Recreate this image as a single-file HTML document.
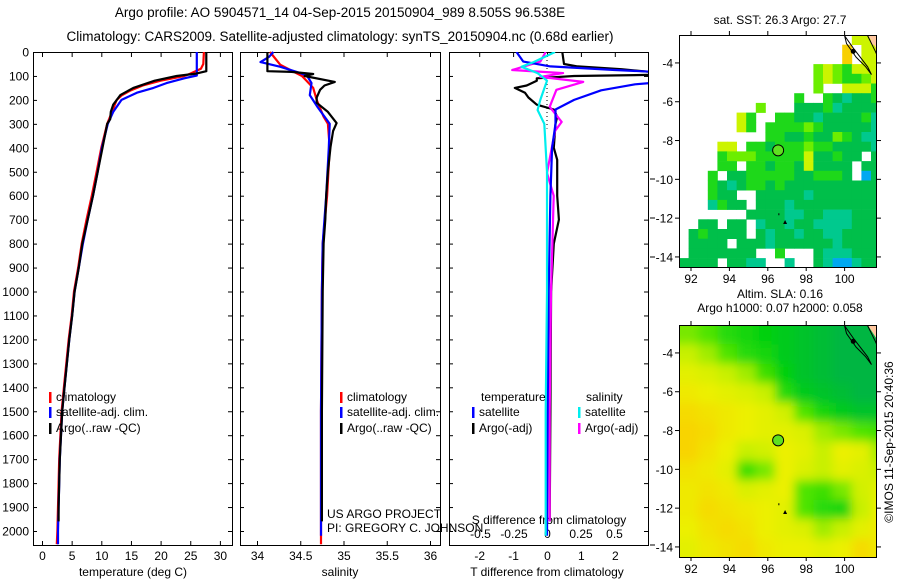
<!DOCTYPE html>
<html><head><meta charset="utf-8"><style>
body{margin:0;background:#fff}
svg{display:block;font-family:"Liberation Sans",sans-serif}
</style></head><body>
<svg id="s" width="900" height="580" viewBox="0 0 900 580" xmlns="http://www.w3.org/2000/svg">
<text x="340" y="17" font-size="13.5" text-anchor="middle">Argo profile: AO 5904571_14 04-Sep-2015 20150904_989 8.505S 96.538E</text>
<text x="340" y="41" font-size="13.5" text-anchor="middle">Climatology: CARS2009. Satellite-adjusted climatology: synTS_20150904.nc (0.68d earlier)</text>
<g id="g"></g>
</svg>
<script>
// ---------- profile data (depth m, value) ----------
const depthTicks=[0,100,200,300,400,500,600,700,800,900,1000,1100,1200,1300,1400,1500,1600,1700,1800,1900,2000];
const tTicks=[0,5,10,15,20,25,30];
const sTicks=[34,34.5,35,35.5,36];
const sTickLabels=["34","34.5","35","35.5","36"];
const dtTicks=[-2,-1,0,1,2];
const dsTicks=[-0.5,-0.25,0,0.25,0.5];
const dsTickLabels=["-0.5","-0.25","0","0.25","0.5"];

const tClimDepth=[0,50,70,90,100,120,140,160,180,200,250,300,400,500,600,700,800,900,1000,1100,1200,1300,1400,1500,1600,1700,1800,1900,2000,2055];
const tClim=[27.3,27.2,26.8,25,24,20,17,15,13.5,12.6,11.8,11,10,9.2,8.4,7.5,6.7,6.1,5.4,5.0,4.5,4.1,3.7,3.3,3.1,2.9,2.8,2.7,2.6,2.5];
const tSatDepth=[0,98,110,130,150,170,200,250,300,400,500,600,700,800,900,1000,1100,1200,1300,1400,1500,1600,1700,1800,1900,2000,2055];
const tSat=[26.1,26.1,24,21,18.8,16,13.4,12,11.1,10.1,9.4,8.6,7.7,6.9,6.2,5.5,5.1,4.6,4.2,3.8,3.4,3.2,3.0,2.9,2.8,2.7,2.7];
const tArgoDepth=[0,80,90,100,120,150,180,220,250,280,300,400,500,600,700,800,900,1000,1100,1200,1300,1400,1500,1600,1700,1800,1900,1960];
const tArgo=[27.7,27.7,26,22.7,19,15.4,13.2,12,11.6,11.5,11,10.2,9.4,8.6,7.7,6.8,6.2,5.5,5.1,4.6,4.2,3.8,3.4,3.2,3.0,2.9,2.8,2.8];

const sClimDepth=[0,54,100,150,200,270,300,400,600,800,1000,1500,2055];
const sClim=[34.15,34.27,34.52,34.65,34.69,34.77,34.82,34.84,34.81,34.76,34.75,34.74,34.74];
const sSatDepth=[0,20,42,62,88,100,130,180,230,300,400,600,800,1000,1500,2020];
const sSat=[34.19,34.14,34.04,34.27,34.5,34.58,34.63,34.61,34.7,34.84,34.83,34.8,34.76,34.75,34.74,34.74];
const sArgoDepth=[0,80,83,92,100,125,140,158,190,212,250,297,330,397,500,600,700,800,1000,1500,1960];
const sArgo=[34.12,34.12,34.4,34.65,34.55,34.9,34.78,34.73,34.69,34.69,34.82,34.92,34.88,34.85,34.82,34.8,34.79,34.77,34.76,34.75,34.75];

const dtSatDepth=[0,40,60,75,85,100,125,135,160,200,240,300,400,600,1000,1500,2020];
const dtSat=[-0.9,-0.7,0.1,2,3.5,3.5,3.5,2.6,1.6,0.8,0.25,0.25,0.15,0.1,0.05,0.02,0];
const dtArgoDepth=[0,50,60,72,85,95,100,110,120,140,150,170,190,220,240,270,300,400,450,600,700,800,1000,1500,1960];
const dtArgo=[0.45,0.5,0.9,2.2,3.2,3.2,0.8,-0.3,-0.3,-0.6,-0.95,-0.65,-0.55,-0.3,0.2,0.3,0.25,0.2,0.3,0.3,0.35,0.2,0.12,0.1,0.08];
const dsSatDepth=[0,42,62,88,120,200,242,300,500,1000,1500,2020];
const dsSat=[0.06,-0.1,-0.19,-0.07,0,-0.05,-0.07,-0.02,0,0,-0.01,-0.01];
const dsArgoDepth=[0,40,75,88,104,125,158,229,292,330,505,600,800,1000,1500,1960];
const dsArgo=[-0.01,-0.05,-0.26,0.12,-0.05,0.27,0.07,0.02,0.11,0.06,0,0.05,0.04,0.03,0.02,0.02];

// ---------- map data ----------
const sstRows=[
"..................yyp",
".................o.yy",
".................o.yy",
"..............lylgyyy",
"..............lylggly",
"..............l..yyyg",
"............g..gdcddg",
"........l...dddgcdddd",
"......yg..ggddcddddgc",
"......yg.gggglgdddddc",
".........ggddgddlgdcc",
"....yy.ggdggglggddddc",
"....glllgggggyddgdd.d",
"....gg.ggdggdydddd.dd",
"...g.ddgggggddgggd.bd",
"...gdcdggdgdddddddddd",
"...gdd..dddddcddddddd",
"...cgdd.dddcddddddddd",
".......ddddccddcccddd",
"..dd.dd.cddcddccccddd",
".dgdddd.dcddcddccdddd",
".dddd.dddcddddddcdddd",
".ddddddd..g...dcccddd",
"dddd.ddcc..c..dcbbcdd"];
const sstColors={g:"#1ed81a",d:"#00bf4a",c:"#00c98e",l:"#6cee00",y:"#ccf400",o:"#f8d000",b:"#00a8f0",p:"#ffc8a0"};
const slaGrid=[
[0.5,0.45,0.35,0.3,0.25,0.2,0.15,0.1,0.05,0.05,0.05],
[0.6,0.55,0.45,0.35,0.3,0.2,0.15,0.1,0.05,0.05,0.05],
[0.75,0.7,0.6,0.55,0.4,0.25,0.15,0.1,0.05,0.05,0.05],
[0.85,0.8,0.75,0.7,0.6,0.35,0.2,0.15,0.1,0.05,0.05],
[0.95,0.9,0.85,0.8,0.75,0.65,0.45,0.3,0.2,0.15,0.15],
[1.0,0.95,0.85,0.8,0.75,0.75,0.7,0.55,0.5,0.45,0.4],
[1.0,0.9,0.8,0.6,0.65,0.8,0.75,0.6,0.8,0.75,0.55],
[0.9,0.85,0.75,0.4,0.5,0.8,0.7,0.6,0.75,0.7,0.6],
[0.85,0.9,0.85,0.7,0.75,0.8,0.45,0.4,0.5,0.65,0.75],
[0.85,0.95,0.9,0.85,0.8,0.75,0.45,0.35,0.3,0.6,0.8],
[0.8,0.9,0.95,0.9,0.8,0.75,0.7,0.55,0.6,0.75,0.85],
[0.75,0.85,0.9,0.95,0.85,0.8,0.8,0.75,0.8,0.95,0.85]];
const lonTicks=[92,94,96,98,100];
const latTicks=[-4,-6,-8,-10,-12,-14];
const argoLon=96.538, argoLat=-8.505;

const NS="http://www.w3.org/2000/svg";
const G=document.getElementById('g');
function mk(tag,at,parent){const e=document.createElementNS(NS,tag);for(const k in at)e.setAttribute(k,at[k]);(parent||G).appendChild(e);return e;}
function txt(x,y,s,at,parent){const e=mk('text',Object.assign({x:x,y:y,'font-size':12},at||{}),parent);e.textContent=s;return e;}

const TOP=52, BOT=545;
const yD=d=>TOP+d*0.2395;
const panels=[{x0:33,x1:232},{x0:240,x1:440},{x0:449,x1:648}];
const xT=v=>42+v*5.93;
const xS=v=>257+(v-34)*86.5;
const xDT=v=>547+v*33.9;
const xDS=v=>547+v*134;

function line(xs,ds,fx,col,w,name){
  let p=xs.map((v,i)=>(i?'L':'M')+fx(v).toFixed(1)+','+yD(ds[i]).toFixed(1)).join('');
  const e=mk('path',{d:p,fill:'none',stroke:col,'stroke-width':w,'stroke-linejoin':'round'});
  
  
}

panels.forEach((P,i)=>{
  const cp=mk('clipPath',{id:'cp'+i});mk('rect',{x:P.x0,y:TOP,width:P.x1-P.x0,height:BOT-TOP},cp);
  const r=mk('rect',{x:P.x0+0.5,y:TOP+0.5,width:P.x1-P.x0,height:BOT-TOP,fill:'none',stroke:'#000','stroke-width':1});
  
  
  depthTicks.forEach(d=>{
    const y=yD(d)+0.5;
    mk('line',{x1:P.x0,x2:P.x0+4,y1:y,y2:y,stroke:'#000'});
    mk('line',{x1:P.x1-4,x2:P.x1,y1:y,y2:y,stroke:'#000'});
  });
});
depthTicks.forEach(d=>{
  const t=txt(29,yD(d)+4.5,String(d),{'text-anchor':'end'});
  
  
});
function xticks(vals,labs,fx,ly,top,bot){
  vals.forEach((v,i)=>{const x=fx(v)+0.5;
    if(top)mk('line',{x1:x,x2:x,y1:TOP,y2:TOP+5,stroke:'#000'});
    if(bot)mk('line',{x1:x,x2:x,y1:BOT-4,y2:BOT,stroke:'#000'});
    const t=txt(x,ly,labs[i],{'text-anchor':'middle'});
    
    
  });
}
xticks(tTicks,tTicks.map(String),xT,560,true,true);
xticks(sTicks,sTickLabels,xS,560,true,true);
xticks(dtTicks,dtTicks.map(String),xDT,560,true,false);
xticks(dsTicks,dsTickLabels,xDS,538,false,false);
[["temperature (deg C)",133],["salinity",340],["T difference from climatology",547]].forEach(a=>{
  const t=txt(a[1],576,a[0],{'text-anchor':'middle'});
  
  
});
const sdt=txt(549,524,"S difference from climatology",{'text-anchor':'middle'});



// series
line(tClim,tClimDepth,xT,'#f00',2.2,'temp-climatology-line');
line(tSat,tSatDepth,xT,'#00f',2.2,'temp-satellite-line');
line(tArgo,tArgoDepth,xT,'#000',2.2,'temp-argo-line');
line(sClim,sClimDepth,xS,'#f00',2.2,'sal-climatology-line');
line(sSat,sSatDepth,xS,'#00f',2.2,'sal-satellite-line');
line(sArgo,sArgoDepth,xS,'#000',2.2,'sal-argo-line');
mk('line',{x1:547,x2:547,y1:TOP,y2:yD(320),stroke:'#000','stroke-dasharray':'1,3'});
const dg=mk('g',{'clip-path':'url(#cp2)'});
function lineIn(xs,ds,fx,col,w,name){line(xs,ds,fx,col,w,name);dg.appendChild(G.lastChild);}
lineIn(dtArgo,dtArgoDepth,xDT,'#000',2.2,'tdiff-argo-line');
lineIn(dsArgo,dsArgoDepth,xDS,'#f0f',2.2,'sdiff-argo-line');
lineIn(dtSat,dtSatDepth,xDT,'#00f',2.2,'tdiff-satellite-line');
lineIn(dsSat,dsSatDepth,xDS,'#0ee',2.2,'sdiff-satellite-line');

// legends
function leg(x,y,col,label,name){
  const b=mk('rect',{x:x,y:y-9,width:2.5,height:11,fill:col});
  
  
  const t=txt(x+7,y,label);
  
  
}
leg(49,401,'#f00','climatology','legend-climatology');
leg(49,416,'#00f','satellite-adj. clim.','legend-satellite');
leg(49,432,'#000','Argo(..raw -QC)','legend-argo');
leg(340,401,'#f00','climatology','legend-climatology-2');
leg(340,416,'#00f','satellite-adj. clim.','legend-satellite-2');
leg(340,432,'#000','Argo(..raw -QC)','legend-argo-2');
txt(481,401,'temperature');
txt(586,401,'salinity');
leg(472,416,'#00f','satellite','legend-t-satellite');
leg(472,432,'#000','Argo(-adj)','legend-t-argo');
leg(578,416,'#0ee','satellite','legend-s-satellite');
leg(578,432,'#f0f','Argo(-adj)','legend-s-argo');
const u1=txt(327,518,'US ARGO PROJECT');
const u2=txt(327,532,'PI: GREGORY C. JOHNSON');
[179,218,257,545].forEach(y=>mk('line',{x1:650,x2:655,y1:y,y2:y,stroke:'#000'}));

// ---------- maps ----------
const MX0=679,MX1=877,LON0=91.375,PXLON=19.2,LAT0=-2.56,PXLAT=19.4;
const mx=l=>MX0+(l-LON0)*PXLON;
function drawMap(top,idx,fillFn,title1,title2){
  const bot=top+232;
  const my=l=>top+(LAT0-l)*PXLAT;
  const cp=mk('clipPath',{id:'mcp'+idx});mk('rect',{x:MX0,y:top,width:MX1-MX0,height:bot-top},cp);
  const g=mk('g',{'clip-path':'url(#mcp'+idx+')'});
  
  
  fillFn(g,my);
  mk('path',{d:`M${mx(101.2)},${my(-2.56)} L${MX1},${my(-2.56)} L${MX1},${my(-3.3)} Z`,fill:'#ffc8a0'},g);
  mk('path',{d:`M${mx(100)},${my(-2.6)} L${mx(100.5)},${my(-3.3)} L${mx(101.2)},${my(-4.2)} L${mx(101.4)},${my(-4.6)} L${mx(101.1)},${my(-4.2)} L${mx(100.6)},${my(-3.7)} L${mx(100.1)},${my(-3.0)} Z`,fill:'none',stroke:'#000','stroke-width':1},g);
  mk('path',{d:`M${mx(101.2)},${my(-2.6)} L${mx(101.6)},${my(-3.4)} L${MX1},${my(-3.6)}`,fill:'none',stroke:'#000'},g);
  mk('circle',{cx:mx(100.45),cy:my(-3.4),r:2.5,fill:'#000'},g);
  const c=mk('circle',{cx:mx(argoLon),cy:my(argoLat),r:5.5,fill:'#5fe020',stroke:'#000','stroke-width':1},g);
  
  
  mk('path',{d:`M${mx(96.9)-2},${my(-12.2)+2} l2,-4 l2,4 Z`,fill:'#000'},g);
  mk('rect',{x:mx(96.55),y:my(-11.8)-1,width:1,height:2,fill:'#000'},g);
  const fr=mk('rect',{x:MX0+0.5,y:top+0.5,width:MX1-MX0-1,height:bot-top,fill:'none',stroke:'#000'});
  
  
  lonTicks.forEach(l=>{const x=mx(l);
    mk('line',{x1:x,x2:x,y1:top-4,y2:top,stroke:'#000'});mk('line',{x1:x,x2:x,y1:bot,y2:bot+4,stroke:'#000'});
    const t=txt(x,bot+16,String(l),{'text-anchor':'middle'});
    
    });
  latTicks.forEach(l=>{const y=my(l);
    mk('line',{x1:MX0-4,x2:MX0,y1:y,y2:y,stroke:'#000'});mk('line',{x1:MX1,x2:MX1+4,y1:y,y2:y,stroke:'#000'});
    const t=txt(MX0-6,y+4.5,String(l),{'text-anchor':'end'});
    
    });
  const t1=txt(780,top-(title2?27:11),title1,{'text-anchor':'middle'});
  
  
  if(title2){const t2=txt(780,top-13,title2,{'text-anchor':'middle'});}
}
drawMap(35,0,(g,my)=>{
  sstRows.forEach((row,r)=>{[...row].forEach((ch,c)=>{
    if(ch==='.')return;
    const lon=LON0+c*0.5, lat=LAT0-r*0.5;
    const cell=mk('rect',{x:mx(lon).toFixed(1),y:my(lat).toFixed(1),width:10,height:10,fill:sstColors[ch]},g);
    
    
  });});
},"sat. SST: 26.3 Argo: 27.7");
const stops=[[0,[0,176,80]],[0.25,[0,208,16]],[0.45,[80,228,0]],[0.6,[200,240,0]],[0.8,[236,240,0]],[1,[248,212,0]]];
function cmap(v){for(let i=1;i<stops.length;i++){if(v<=stops[i][0]){const a=stops[i-1],b=stops[i],t=(v-a[0])/(b[0]-a[0]);return 'rgb('+a[1].map((c,k)=>Math.round(c+(b[1][k]-c)*t)).join(',')+')';}}return 'rgb(248,212,0)';}
mk('filter',{id:'bl',x:'-10%',y:'-10%',width:'120%',height:'120%'}).appendChild(document.createElementNS(NS,'feGaussianBlur')).setAttribute('stdDeviation','5');
drawMap(325,1,(g,my)=>{
  const inner=mk('g',{filter:'url(#bl)'},g);
  slaGrid.forEach((row,r)=>row.forEach((v,c)=>{
    const cell=mk('rect',{x:(mx(LON0+c)-(c===0?20:0)).toFixed(1),y:(my(LAT0-r)-(r===0?20:0)).toFixed(1),width:PXLON+1+(c===0?20:0)+(c===row.length-1?20:0),height:PXLAT+1+(r===0?20:0)+(r===slaGrid.length-1?20:0),fill:cmap(v)},inner);
    
    
  }));
},"Altim. SLA: 0.16","Argo h1000: 0.07 h2000: 0.058");
const cr=txt(0,0,"©IMOS 11-Sep-2015 20:40:36",{transform:'translate(893,442) rotate(-90)','text-anchor':'middle'});


</script>
</body></html>
